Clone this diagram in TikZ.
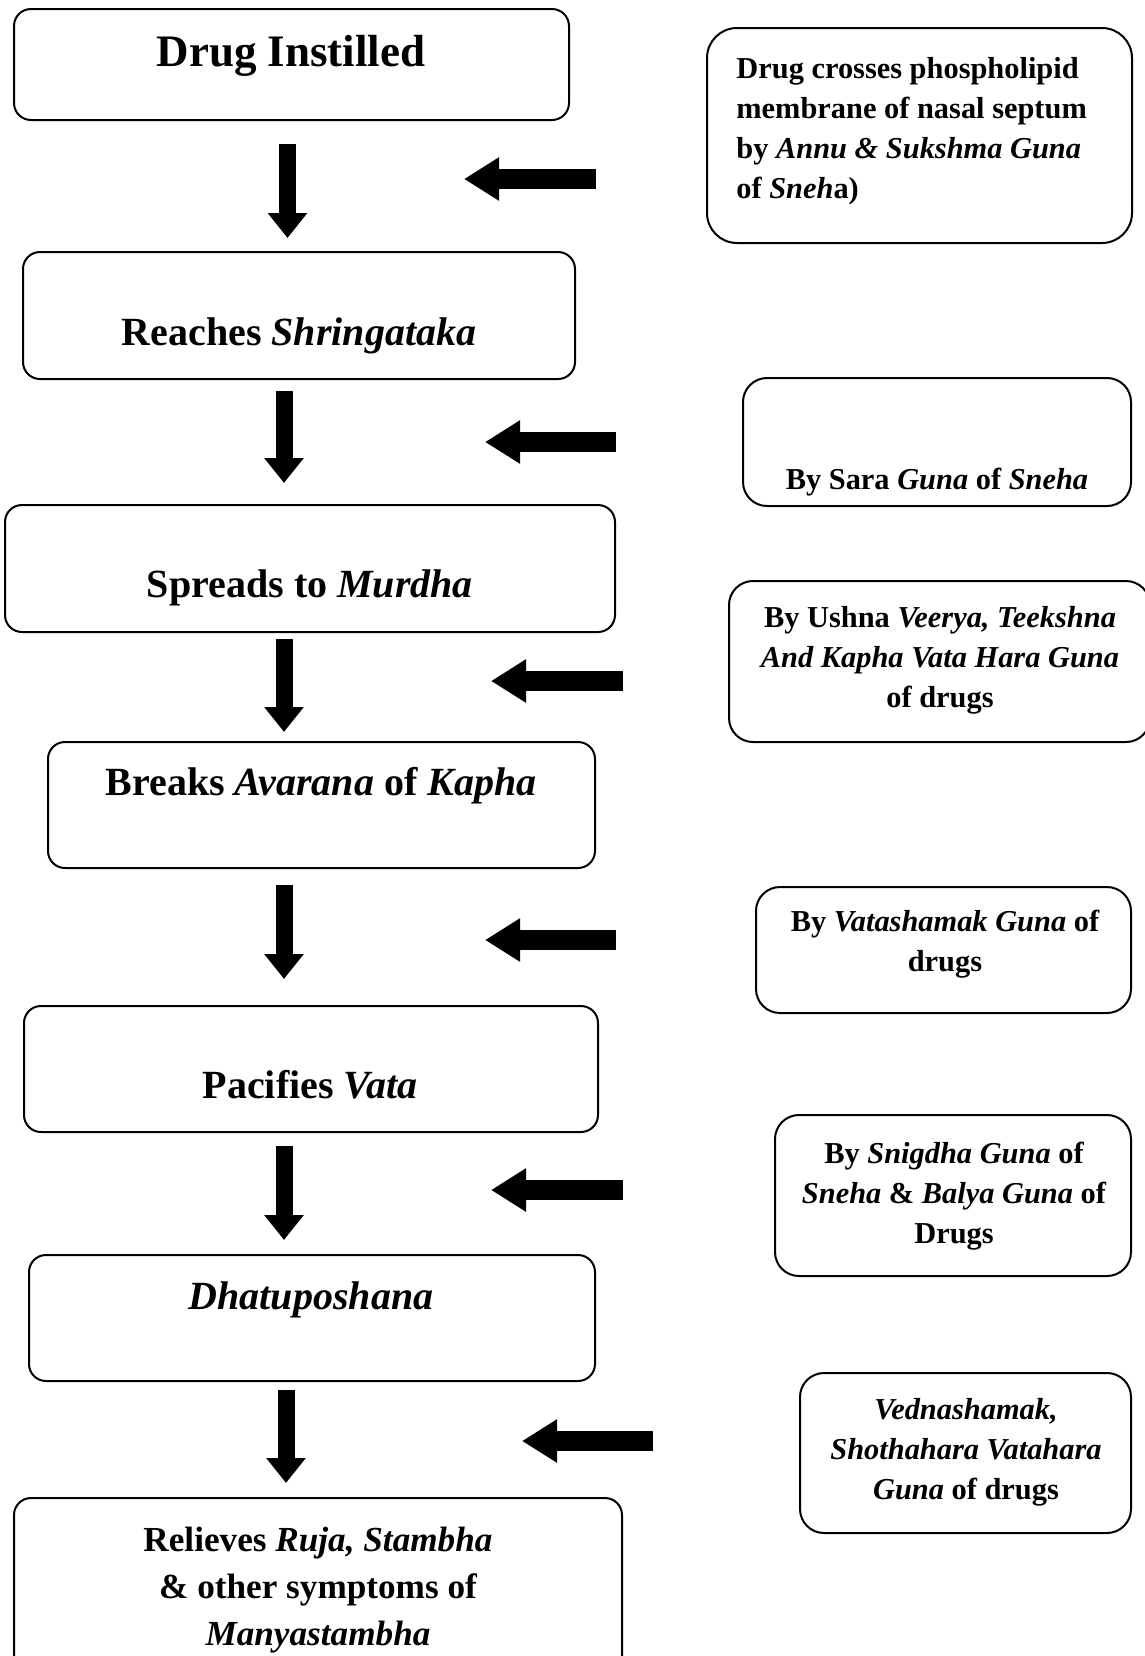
\documentclass[tikz,border=0pt]{standalone}
\usepackage{fontspec}
\setmainfont{Liberation Serif}
\usetikzlibrary{arrows.meta}

\begin{document}
\begin{tikzpicture}[x=0.5pt,y=-0.5pt,line join=round,font=\bfseries,
	box/.style={draw,line width=1pt,rounded corners=8.5pt,inner sep=0pt},
	rbox/.style={box,rounded corners=12pt},
	ltxt/.style={inner sep=0pt,anchor=base,font=\bfseries\fontsize{20}{23.5}\selectfont,align=center},
	rtxt/.style={inner sep=0pt,anchor=base,font=\bfseries\fontsize{15.2}{20}\selectfont,align=center},
	darrow/.style={line width=8.5pt,-{Triangle[width=19pt,length=12.5pt]}},
	larrow/.style={line width=10pt,-{Triangle[width=20.5pt,length=17.5pt]}}]
	\useasboundingbox (0,0) rectangle (1145,1656);
	% boxes: name/left/top/right/bottom
	\foreach \n/\xa/\ya/\xb/\yb in {b1/14/9/569/120,b2/23/252/575/379,b3/5/505/615/632,
		b4/48/742/595/868,b5/24/1006/598/1132,b6/29/1255/595/1381,b7/14/1498/622/1680}{
		\node[box,minimum width={(\xb-\xa)*0.5pt},minimum height={(\yb-\ya)*0.5pt}] (\n)
			at ({(\xa+\xb)/2},{(\ya+\yb)/2}) {};}
	\foreach \n/\xa/\ya/\xb/\yb in {r2/743/378/1131/506,r3/729/581/1150/742,
		r4/756/887/1131/1013,r5/775/1115/1131/1276,r6/800/1373/1131/1533}{
		\node[rbox,minimum width={(\xb-\xa)*0.5pt},minimum height={(\yb-\ya)*0.5pt}] (\n)
			at ({(\xa+\xb)/2},{(\ya+\yb)/2}) {};}
	\node[rbox,rounded corners=15pt,minimum width=212.5pt,minimum height=107.5pt] (r1) at (919.5,135.5) {};
	% texts (base = last line)
	\node[ltxt,font=\bfseries\fontsize{22.5}{27}\selectfont] (t1) at (291,66) {Drug Instilled};
	\node[ltxt] (t2) at (299,345) {Reaches \textit{Shringataka}};
	\node[ltxt] (t3) at (310,597) {Spreads to \textit{Murdha}};
	\node[ltxt] (t4) at (321,795) {Breaks \textit{Avarana} of \textit{Kapha}};
	\node[ltxt] (t5) at (310,1098) {Pacifies \textit{Vata}};
	\node[ltxt] (t6) at (311,1309) {\textit{Dhatuposhana}};
	\node[ltxt,font=\bfseries\fontsize{17.6}{23.5}\selectfont] (t7) at (318,1645) {Relieves \textit{Ruja, Stambha}\\\& other symptoms of\\\textit{Manyastambha}};
	\node[rtxt,align=left,anchor=base west] (s1) at (736,198) {Drug crosses phospholipid\\membrane of nasal septum\\by \textit{Annu \& Sukshma Guna}\\of \textit{Sneh}a)};
	\node[rtxt] (s2) at (937,489) {By Sara \textit{Guna} of \textit{Sneha}};
	\node[rtxt] (s3) at (940,707) {By Ushna \textit{Veerya, Teekshna}\\\textit{And Kapha Vata Hara Guna}\\of drugs};
	\node[rtxt] (s4) at (945,971) {By \textit{Vatashamak Guna} of\\drugs};
	\node[rtxt] (s5) at (954,1243) {By \textit{Snigdha Guna} of\\\textit{Sneha} \& \textit{Balya Guna} of\\Drugs};
	\node[rtxt] (s6) at (966,1499) {\textit{Vednashamak,}\\\textit{Shothahara Vatahara}\\\textit{Guna} of drugs};
	% arrows
	\foreach \i/\x/\ya/\yb in {1/287.5/144/238,2/284/391/483,3/284/639/732,
		4/284/885/979,5/284/1146/1240,6/286/1390/1483}{
		\path (\x,\ya) coordinate (d\i) (\x,\yb) coordinate (e\i);
		\draw[darrow] (d\i)--(e\i);}
	\foreach \i/\xa/\xb/\y in {1/596/464/179,2/616/485/442,3/623/491/681,
		4/616/485/940,5/623/491/1190,6/653/522/1441}{
		\path (\xa,\y) coordinate (f\i) (\xb,\y) coordinate (g\i);
		\draw[larrow] (f\i)--(g\i);}
\end{tikzpicture}
\end{document}
